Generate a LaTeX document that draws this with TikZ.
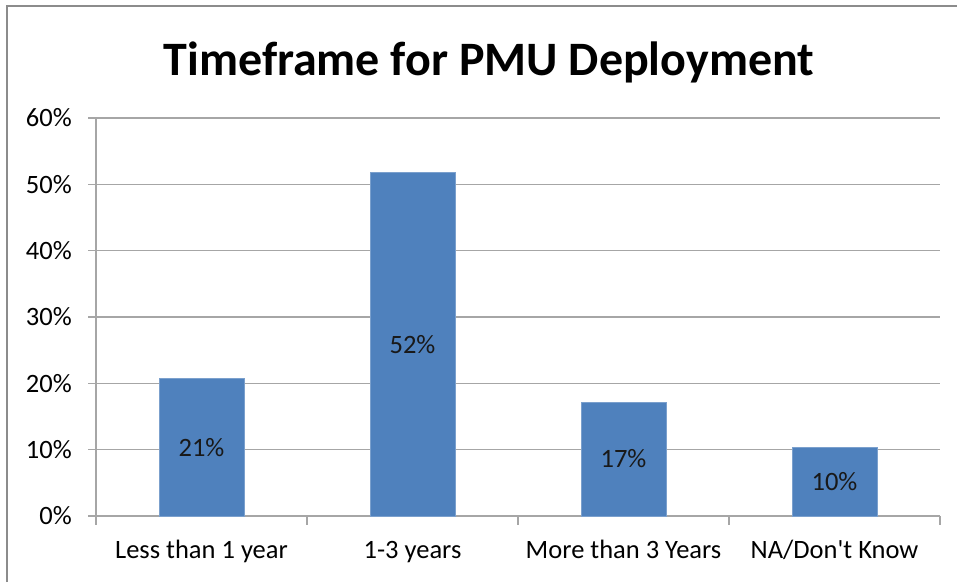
\documentclass[tikz,border=0pt]{standalone}
\usepackage{fontspec}
\setmainfont{Carlito}[Ligatures=TeXOff]
\usetikzlibrary{positioning}
\definecolor{barblue}{HTML}{4F81BD}
\definecolor{gridgray}{HTML}{A6A6A6}
\definecolor{framegray}{HTML}{8C8C8C}
\tikzset{
	gridline/.style={
		draw=gridgray, line width=1.3pt
	},
	bar/.style={
		fill=barblue, draw=barblue!75!white, line width=0.6pt
	},
	ticklabel/.style={
		anchor=east, inner sep=0pt, font=\fontsize{26.5}{30}\selectfont
	},
	catlabel/.style={
		anchor=base, inner sep=0pt, font=\fontsize{26.5}{30}\selectfont
	},
	barlabel/.style={
		inner sep=0pt, text=black!90, font=\fontsize{26.5}{30}\selectfont
	}
}

\begin{document}
\begin{tikzpicture}[x=1pt,y=-1pt]
	\useasboundingbox (0,0) rectangle (957,582);
	% chart frame
	\draw[framegray, line width=2pt] (7,582) -- (7,6) -- (957,6);
	\node[anchor=base, font=\bfseries\fontsize{48}{54}\selectfont] (title) at (489,75)
		{Timeframe for PMU Deployment};

	% grid and value axis
	\foreach \v in {0,10,...,60}{
		\draw[gridline] (88,{516-6.633*\v}) -- (940,{516-6.633*\v});
		\node[ticklabel] (tick\v) at (72,{516-6.633*\v}) {\v\%};
	}
	\draw[gridline] (96,118) -- (96,525);
	\foreach \i in {1,...,4}
		\draw[gridline] ({96+211*\i},516) -- ({96+211*\i},525);

	% bars
	\foreach \i/\h/\t in {1/20.7/21, 2/51.8/52, 3/17.2/17, 4/10.3/10}{
		\draw[bar] ({96+211*(\i-0.5)-42.5},516) rectangle ({96+211*(\i-0.5)+42.5},{516-6.633*\h});
		\node[barlabel] (val\i) at ({96+211*(\i-0.5)},{516-3.3165*\h}) {\t\%};
	}

	% categories
	\foreach \i/\c in {1/Less than 1 year, 2/1-3 years, 3/More than 3 Years, 4/{NA/Don't Know}}
		\node[catlabel] (cat\i) at ({96+211*(\i-0.5)},558) {\c};
\end{tikzpicture}
\end{document}
